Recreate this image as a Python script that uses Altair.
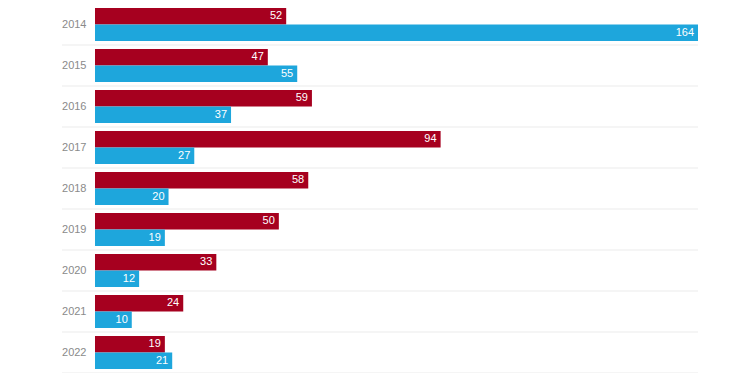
import altair as alt
import pandas as pd

years = ["2014", "2015", "2016", "2017", "2018", "2019", "2020", "2021", "2022"]
red_values = [52, 47, 59, 94, 58, 50, 33, 24, 19]
blue_values = [164, 55, 37, 27, 20, 19, 12, 10, 21]
series_names = ["red", "blue"]
colors = ["#a6001f", "#1ea6dc"]

rows = []
for y, r, b in zip(years, red_values, blue_values):
    rows.append({"year": y, "series": "red", "value": r})
    rows.append({"year": y, "series": "blue", "value": b})
df = pd.DataFrame(rows)
grid_df = pd.DataFrame({"year": years})

FONT = "Liberation Sans"

y_enc = alt.Y(
    "year:N",
    sort=years,
    scale=alt.Scale(range=[-4, 365], paddingInner=0, paddingOuter=0),
    axis=alt.Axis(
        title=None, ticks=False, domain=False, grid=False,
        labelPadding=9, labelColor="#8a8a8a", labelFontSize=11, labelFont=FONT,
    ),
)
yoff_enc = alt.YOffset(
    "series:N",
    sort=series_names,
    scale=alt.Scale(domain=series_names, paddingInner=0, paddingOuter=0.242),
)
x_enc = alt.X("value:Q", scale=alt.Scale(domain=[0, 164], nice=False, zero=True), axis=None)

rules = alt.Chart(grid_df).mark_rule(color="#ebebeb", strokeWidth=1).encode(
    y=alt.Y("year:N", sort=years, bandPosition=1),
    x=alt.value(-33),
    x2=alt.value(603),
)

bars = alt.Chart(df).mark_bar().encode(
    y=y_enc,
    yOffset=yoff_enc,
    x=x_enc,
    color=alt.Color("series:N", scale=alt.Scale(domain=series_names, range=colors), legend=None),
)

labels = alt.Chart(df).mark_text(
    align="right", baseline="middle", dx=-4, color="white", fontSize=11, font=FONT
).encode(
    y=alt.Y("year:N", sort=years),
    yOffset=alt.YOffset("series:N", sort=series_names),
    x="value:Q",
    text="value:Q",
)

chart = alt.layer(rules, bars, labels).properties(
    width=603,
    height=365,
    autosize="none",
    padding={"left": 87, "top": 0, "right": 0, "bottom": 0},
).configure_view(stroke=None)

chart.save("out.html", embed_options={"renderer": "svg", "actions": False})
